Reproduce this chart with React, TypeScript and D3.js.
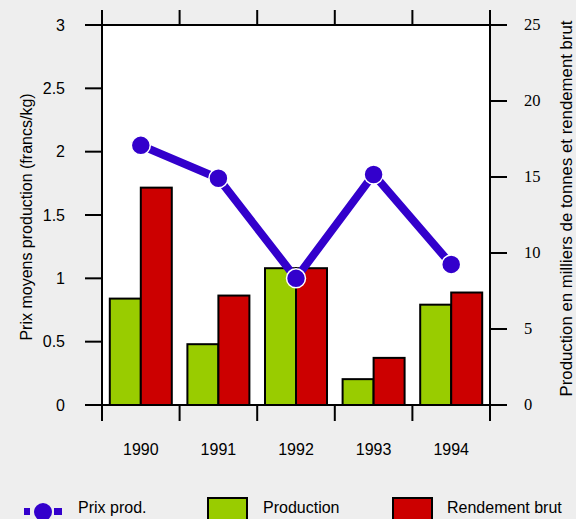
import React, { useEffect, useRef } from 'react';
import * as d3 from 'd3';

const years = ['1990', '1991', '1992', '1993', '1994'];
const prixProd = [2.05, 1.79, 1.0, 1.82, 1.11];
const production = [7.0, 4.0, 9.0, 1.7, 6.6];
const rendementBrut = [14.3, 7.2, 9.0, 3.1, 7.4];
const leftTicks = [0, 0.5, 1, 1.5, 2, 2.5, 3];
const rightTicks = [0, 5, 10, 15, 20, 25];

const W = 576;
const H = 519;

const App: React.FC = () => {
  const svgRef = useRef<SVGSVGElement>(null);

  useEffect(() => {
    if (!svgRef.current) return;
    const svg = d3.select(svgRef.current);
    svg.selectAll('*').remove();

    const left = 102, right = 490, top = 25, bottom = 405;
    const sans = 'Liberation Sans, Arial, sans-serif';
    const serif = 'Liberation Serif, Times New Roman, serif';
    const fs = 16;

    const x = d3.scaleBand().domain(years).range([left, right]);
    const yL = d3.scaleLinear().domain([0, 3]).range([bottom, top]);
    const yR = d3.scaleLinear().domain([0, 25]).range([bottom, top]);

    svg.append('rect').attr('width', W).attr('height', H).attr('fill', '#eeeeee');
    svg.append('rect')
      .attr('x', left).attr('y', top)
      .attr('width', right - left).attr('height', bottom - top)
      .attr('fill', '#ffffff');

    // bars
    const bw = 31;
    const groups = svg.append('g');
    years.forEach((yr, i) => {
      const cx = x(yr)! + x.bandwidth() / 2;
      groups.append('rect')
        .attr('x', cx - bw).attr('y', yR(production[i]))
        .attr('width', bw).attr('height', bottom - yR(production[i]))
        .attr('fill', '#99cc00').attr('stroke', '#000').attr('stroke-width', 2);
      groups.append('rect')
        .attr('x', cx).attr('y', yR(rendementBrut[i]))
        .attr('width', bw).attr('height', bottom - yR(rendementBrut[i]))
        .attr('fill', '#cc0000').attr('stroke', '#000').attr('stroke-width', 2);
    });

    // frame lines
    const axisG = svg.append('g').attr('stroke', '#000').attr('stroke-width', 2);
    axisG.append('line').attr('x1', left).attr('x2', left).attr('y1', 10).attr('y2', 421);
    axisG.append('line').attr('x1', right).attr('x2', right).attr('y1', 10).attr('y2', 421);
    axisG.append('line').attr('x1', left).attr('x2', right).attr('y1', top).attr('y2', top);
    axisG.append('line').attr('x1', left).attr('x2', right).attr('y1', bottom).attr('y2', bottom);

    // left ticks
    leftTicks.forEach(t => {
      axisG.append('line').attr('x1', left - 17).attr('x2', left).attr('y1', yL(t)).attr('y2', yL(t));
      svg.append('text')
        .attr('x', 65).attr('y', yL(t)).attr('dy', '0.35em')
        .attr('text-anchor', 'end').attr('font-family', sans).attr('font-size', fs)
        .attr('fill', '#000').text(String(t));
    });

    // right ticks
    rightTicks.forEach(t => {
      axisG.append('line').attr('x1', right).attr('x2', right + 17).attr('y1', yR(t)).attr('y2', yR(t));
      svg.append('text')
        .attr('x', 524).attr('y', yR(t)).attr('dy', '0.33em')
        .attr('text-anchor', 'start').attr('font-family', serif).attr('font-size', 16.5)
        .attr('fill', '#000').text(String(t));
    });

    // category ticks top and bottom
    const bounds = years.map(y => x(y)!).concat([right]);
    bounds.forEach(b => {
      axisG.append('line').attr('x1', b).attr('x2', b).attr('y1', 10).attr('y2', top);
      axisG.append('line').attr('x1', b).attr('x2', b).attr('y1', bottom).attr('y2', 421);
    });
    years.forEach(yr => {
      svg.append('text')
        .attr('x', x(yr)! + x.bandwidth() / 2).attr('y', 455)
        .attr('text-anchor', 'middle').attr('font-family', sans).attr('font-size', fs)
        .attr('fill', '#000').text(yr);
    });

    // axis titles
    svg.append('text')
      .attr('transform', `translate(32, 217) rotate(-90)`)
      .attr('text-anchor', 'middle').attr('font-family', sans).attr('font-size', fs)
      .attr('fill', '#000').text('Prix moyens production (francs/kg)');
    svg.append('text')
      .attr('transform', `translate(572, 208.5) rotate(-90)`)
      .attr('text-anchor', 'middle').attr('font-family', sans).attr('font-size', 16.8)
      .attr('fill', '#000').text('Production en milliers de tonnes et rendement brut');

    // price line
    const line = d3.line<number>()
      .x((_, i) => x(years[i])! + x.bandwidth() / 2)
      .y(d => yL(d));
    svg.append('path')
      .datum(prixProd)
      .attr('d', line)
      .attr('fill', 'none').attr('stroke', '#3300cc').attr('stroke-width', 8);
    svg.selectAll('.pt')
      .data(prixProd)
      .enter()
      .append('circle')
      .attr('class', 'pt')
      .attr('cx', (_, i) => x(years[i])! + x.bandwidth() / 2)
      .attr('cy', d => yL(d))
      .attr('r', 9.5)
      .attr('fill', '#3300cc').attr('stroke', '#ffffff').attr('stroke-width', 1.5);

    // legend
    const ly = 512;
    svg.append('rect').attr('x', 24).attr('y', ly - 4).attr('width', 6).attr('height', 7).attr('fill', '#3300cc');
    svg.append('rect').attr('x', 54).attr('y', ly - 4).attr('width', 8).attr('height', 7).attr('fill', '#3300cc');
    svg.append('circle').attr('cx', 43).attr('cy', ly).attr('r', 9).attr('fill', '#3300cc');
    svg.append('text').attr('x', 78).attr('y', 513)
      .attr('font-family', sans).attr('font-size', fs).attr('fill', '#000').text('Prix prod.');

    svg.append('rect').attr('x', 208).attr('y', 498).attr('width', 39).attr('height', 30)
      .attr('fill', '#99cc00').attr('stroke', '#000').attr('stroke-width', 2);
    svg.append('text').attr('x', 263).attr('y', 513)
      .attr('font-family', sans).attr('font-size', fs).attr('fill', '#000').text('Production');

    svg.append('rect').attr('x', 393).attr('y', 498).attr('width', 39).attr('height', 30)
      .attr('fill', '#cc0000').attr('stroke', '#000').attr('stroke-width', 2);
    svg.append('text').attr('x', 447).attr('y', 513)
      .attr('font-family', sans).attr('font-size', fs).attr('fill', '#000').text('Rendement brut');
  }, []);

  return (
    <svg
      ref={svgRef}
      width={W}
      height={H}
      style={{ position: 'absolute', left: 0, top: 0, display: 'block' }}
    />
  );
};

export default App;
